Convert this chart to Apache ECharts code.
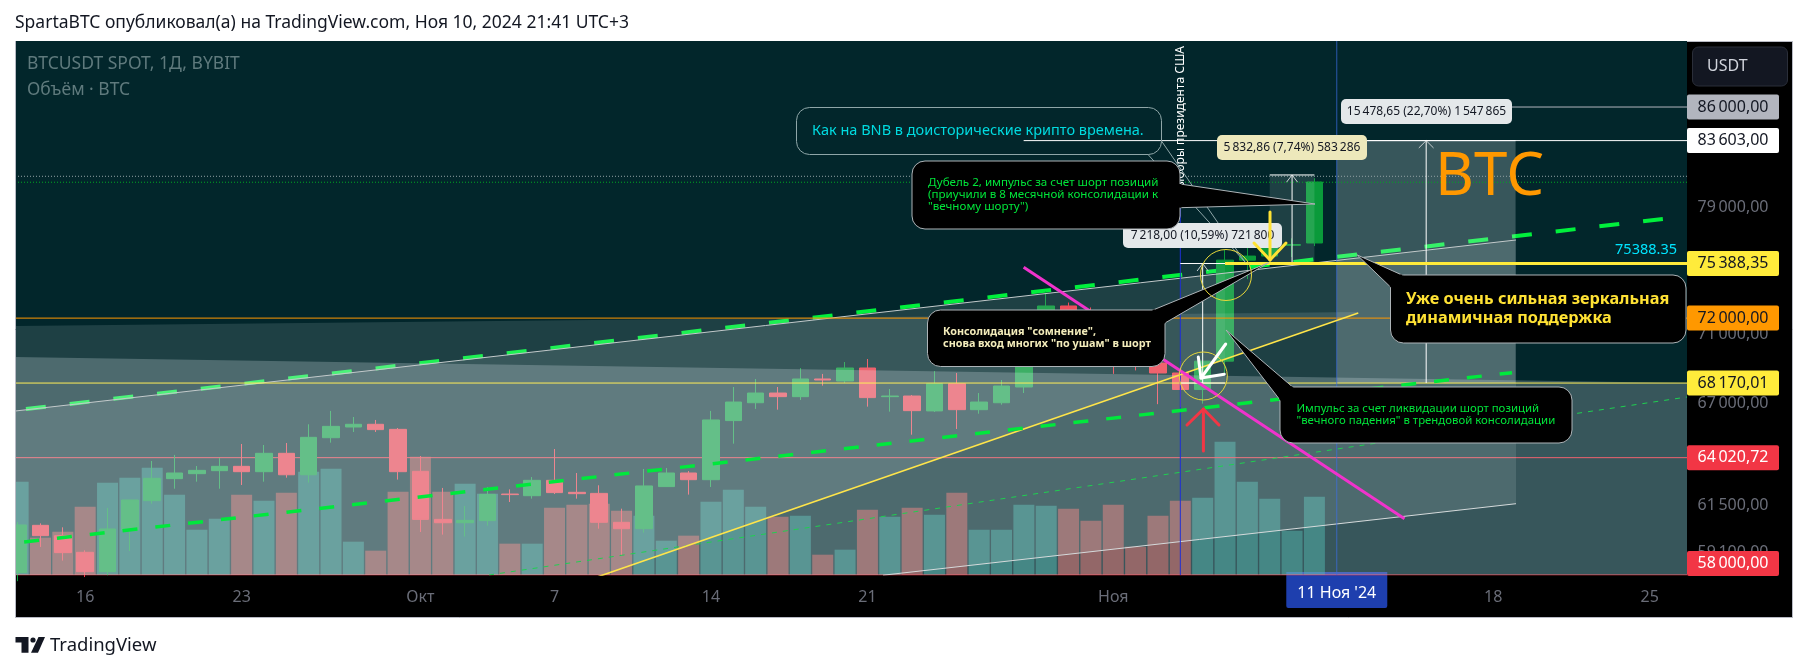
<!DOCTYPE html>
<html>
<head>
<meta charset="utf-8">
<title>BTCUSDT</title>
<script src="https://cdn.jsdelivr.net/npm/echarts@6/dist/echarts.min.js"></script>
<style>
  html, body { margin: 0; padding: 0; background: #fff; }
  #chart { width: 1808px; height: 672px; }
</style>
</head>
<body>
<div id="chart"></div>
<script>
// x axis is in days counted from Aug 31 2024 (16 = Sep 16, 31 = Oct 1, 62 = Nov 1)
var days = [13,14,15,16,17,18,19,20,21,22,23,24,25,26,27,28,29,30,
  31,32,33,34,35,36,37,38,39,40,41,42,43,44,45,46,47,48,49,50,51,52,53,54,55,56,57,58,59,60,61,
  62,63,64,65,66,67,68,69,70,71];
var opens = [58115,60476,59952,59118,58162,60240,61745,62900,63165,63325,63555,63270,64255,63105,65105,65695,65845,65565,
  63290,60780,60610,60715,62090,62005,62810,62180,62125,60630,60305,62480,63200,62845,66050,67050,67600,67395,68405,68290,69040,67395,67430,66590,68135,66660,67050,67945,69900,72740,72300,
  70250,69450,69330,68750,67800,69440,75600,75860,76550,76700];
var closes = [60493,59952,59102,58162,60290,61780,62917,63200,63340,63555,63270,64255,63105,65125,65730,65845,65550,63270,
  60780,60610,60730,62075,62060,62810,62165,62110,60630,60305,62515,63200,62845,66085,67090,67600,67395,68405,68345,69040,67340,67430,66605,68135,66660,67090,68000,69900,72740,72300,70250,
  69450,69300,68750,67800,69440,75600,75860,76550,76600,80740];
var lows = [57700,59385,58706,57900,57985,59185,61590,62370,62740,62370,62565,62740,62950,62690,64835,65419,65419,62850,
  60138,60005,59905,60460,61675,61850,62090,61850,60305,58955,60105,62460,62060,62460,64780,66700,66660,67205,68020,68175,66830,66550,65270,66530,65585,66435,66940,67600,69700,71500,69600,
  68700,68900,66970,66800,67000,68700,74400,75600,75800,76500];
var highs = [60645,60578,60375,59218,61366,61780,63842,64170,63573,64005,64763,64708,64817,65845,66590,66250,66085,65640,
  64110,62410,61470,62460,62335,62985,64490,63200,62550,61330,63415,63465,63305,66590,67945,68405,67945,69040,68695,69390,69565,67830,67490,68865,68750,67600,68345,70200,73620,72950,72650,
  71600,70600,69500,69450,70500,76250,76800,77200,77000,81000];
// thousands of BTC
var volumes = [28.0,11.2,13.0,20.5,27.7,29.2,32.2,24.1,13.6,16.9,24.1,22.3,24.7,31.0,31.9,10.0,7.3,25.0,
  35.5,25.0,27.4,24.4,9.4,9.4,20.2,21.1,21.4,19.3,17.8,10.3,11.8,22.0,25.6,20.5,17.5,17.8,6.1,7.6,19.6,17.5,20.2,18.1,24.7,13.6,13.6,21.1,20.8,19.9,16.3,
  21.1,8.5,17.8,22.3,23.2,40.0,28.0,22.9,13.3,23.5];

var xTickDays = [16,23,31,37,44,51,62,72,79,86];
var xTickLabels = ['16','23','Окт','7','14','21','Ноя',"11 Ноя '24",'18','25'];
var crosshairDay = 72;

var yTickValues = [79000,71000,67000,61500,59100];
var yTickLabels = ['79\u2009000,00','71\u2009000,00','67\u2009000,00','61\u2009500,00','59\u2009100,00'];
var levelValues = [86000,83603,75388.35,72000,68170.01,64020.72,58000];
var levelLabels = ['86\u2009000,00','83\u2009603,00','75\u2009388,35','72\u2009000,00','68\u2009170,01','64\u2009020,72','58\u2009000,00'];
var levelKeys = ['gray','white','yellow','orange','yellow','red','redLow'];

// drawings, [day, price]
var dayMin = 12.86, dayMax = 87.67;
var priceMin = 58000, priceMax = 90915;
var upperTrend = [[12.86,66583],[80.02,76895]];
var lowerTrend = [[51.7,57990],[80.02,61587]];
var upperDash = [[13.35,66698],[86.59,78266]];
var midDash = [[13.27,59634],[79.84,68768]];
var thinDash = [[34.07,58000],[87.67,67374]];
var yellowTrend = [[38.9,57900],[72.96,72314]];
var magentaLine = [[57.99,75145],[75.03,60815]];
var ray86000 = [[76,86000],[87.67,86000]];
var ray83603 = [[57.99,83603],[87.67,83603]];
var ray75388 = [[67,75388.35],[87.67,75388.35]];
var line72000 = [[12.86,72000],[87.67,72000]];
var line68170 = [[12.86,68170.01],[87.67,68170.01]];
var line64020 = [[12.86,64020.72],[87.67,64020.72]];
var line58000 = [[12.86,58000],[87.67,58000]];
var dotWhite = [[12.86,81130],[87.67,81130]];
var dotGreen = [[12.86,80725],[87.67,80725]];
var vlineElection = [[65,80000],[65,58000]];
var vlineCursor = [[72,90915],[72,58000]];

var polyWedge = [[12.86,71526],[73.0,72373],[38.9,57900],[12.86,57900]];
var polyBand = [[12.86,69680],[87.67,68172],[87.67,57900],[12.86,57900]];
var polyChannel = [[12.86,66583],[80.02,76895],[80.02,61587],[51.7,57990],[12.86,57990]];
var polyRangeBig = [[72,83603],[80,83603],[80,68170],[72,68170]];
var polyRangeTop = [[69,81221],[71,81221],[71,75388],[69,75388]];
var polyRangeMid = [[65,75388],[67,75388],[67,68170],[65,68170]];

var rangeBig = [[76,83603],[76,68170]];
var rangeBigHead = [[75.67,83087],[76,83603],[76.33,83087]];
var capBigTop = [[72,83603],[80,83603]];
var rangeTop = [[70,81221],[70,75388]];
var rangeTopHead = [[69.75,80725],[70,81221],[70.25,80725]];
var capTopHi = [[69,81221],[71,81221]];
var capTopLo = [[69,75388],[71,75388]];
var rangeMid = [[66,75388],[66,68170]];
var rangeMidHead = [[65.75,74913],[66,75388],[66.25,74913]];
var capMidHi = [[65,75388],[67,75388]];
var capMidLo = [[65,68170],[67,68170]];

var FONT = '"Noto Sans", sans-serif';
var UP = '#0a9a3a', DOWN = '#f23645';
var chart = echarts.init(document.getElementById('chart'));

function lineS(data, color, width, dash, z) {
  return {
    type: 'line', data: data, showSymbol: false, symbol: 'none', silent: true, clip: true,
    z: z || 4, animation: false,
    lineStyle: { color: color, width: width, type: dash || 'solid', cap: 'butt' }
  };
}
function polyS(points, fill) {
  return {
    type: 'custom', data: [[points[0][0], points[0][1]]], silent: true, clip: true, z: 3,
    encode: { x: 0, y: 1 },
    renderItem: function (params, api) {
      return {
        type: 'polygon',
        shape: { points: points.map(function (p) { return api.coord(p); }) },
        style: { fill: fill }
      };
    }
  };
}

// --- drawn over everything: callouts and hand arrows, placed in page pixels ---
function callout(x, y, w, h, tip, baseA, baseB, lines) {
  var els = [
    { type: 'rect', shape: { x: x, y: y, width: w, height: h, r: 13 }, style: { fill: '#000', stroke: '#aeb4b8', lineWidth: 1 } },
    { type: 'polygon', shape: { points: [baseA, tip, baseB] }, style: { fill: '#000', stroke: '#aeb4b8', lineWidth: 1 } },
    { type: 'line', shape: { x1: baseA[0], y1: baseA[1], x2: baseB[0], y2: baseB[1] }, style: { stroke: '#000', lineWidth: 3 } }
  ];
  lines.forEach(function (l) {
    els.push({ type: 'text', x: l.x, y: l.y, style: { text: l.text, fill: l.color, font: l.font, verticalAlign: 'middle' } });
  });
  return { type: 'group', children: els };
}
function poly(points, color, width) {
  return { type: 'polyline', shape: { points: points }, style: { stroke: color, lineWidth: width, fill: null, lineCap: 'round', lineJoin: 'round' } };
}
function tag(x, y, w, h, fill, text) {
  return { type: 'group', children: [
    { type: 'rect', shape: { x: x, y: y, width: w, height: h, r: 5 }, style: { fill: fill } },
    { type: 'text', x: x + w / 2, y: y + h / 2, style: { text: text, fill: '#131722', font: '12px ' + FONT, align: 'center', verticalAlign: 'middle' } }
  ] };
}
function text(x, y, str, color, font, extra) {
  var style = { text: str, fill: color, font: font, verticalAlign: 'middle' };
  if (extra && extra.align) style.align = extra.align;
  return { type: 'text', x: x, y: y, rotation: extra && extra.rotation || 0, silent: true, style: style };
}

var graphics = [
  { type: 'rect', z: -10, shape: { x: 15.5, y: 41.5, width: 1777, height: 576 }, style: { fill: '#000', stroke: '#b8bac4', lineWidth: 1 } },
  text(15, 23, 'SpartaBTC опубликовал(а) на TradingView.com, Ноя 10, 2024 21:41 UTC+3', '#131722', '17.5px ' + FONT),
  text(27, 64, 'BTCUSDT SPOT, 1Д, BYBIT', '#5f7a7d', '17.5px ' + FONT),
  text(27, 90, 'Объём · BTC', '#5f7a7d', '17.5px ' + FONT),
  text(1435, 178, 'BTC', '#ff9800', '60px ' + FONT),
  text(1677, 250, '75388.35', '#00e5ff', '14.5px ' + FONT, { align: 'right' }),
  text(1181, 46, 'Выборы президента США', '#ffffff', '12px ' + FONT, { align: 'right', rotation: Math.PI / 2 }),
  // USDT button
  { type: 'rect', shape: { x: 1692.5, y: 47, width: 95, height: 39, r: 6 }, style: { fill: '#131722', stroke: '#2a2e39', lineWidth: 1 } },
  text(1707, 66, 'USDT', '#d1d4dc', '16px ' + FONT),
  // BNB note, only an outline
  { type: 'rect', shape: { x: 796.5, y: 107.5, width: 365, height: 47, r: 13 }, style: { fill: null, stroke: '#8fa6a8', lineWidth: 1 } },
  poly([[1161.5, 141], [1245, 262]], '#8fa6a8', 1),
  poly([[1148, 154.5], [1245, 262]], '#8fa6a8', 1),
  text(812, 131, 'Как на BNB в доисторические крипто времена.', '#00dbe0', '14.5px ' + FONT),
  // measure tags
  tag(1341, 99, 171, 25, '#e4e8ea', '15\u2009478,65 (22,70%) 1\u2009547\u2009865'),
  tag(1217, 135, 150, 25, '#ede8bb', '5\u2009832,86 (7,74%) 583\u2009286'),
  tag(1123, 223, 159, 25, '#e4e8ea', '7\u2009218,00 (10,59%) 721\u2009800'),
  // callouts
  callout(1280, 387, 292, 56, [1226, 330], [1292.6, 387], [1280, 400], [
    { x: 1296.5, y: 409, text: 'Импульс за счет ликвидации шорт позиций', color: '#00e63a', font: '11.4px ' + FONT },
    { x: 1296.5, y: 421, text: '"вечного падения" в трендовой консолидации', color: '#00e63a', font: '11.4px ' + FONT }
  ]),
  callout(927.5, 310, 237.5, 56.5, [1268.7, 262.7], [1153, 310], [1165, 323], [
    { x: 943, y: 332, text: 'Консолидация "сомнение",', color: '#f3ecbb', font: 'bold 10.8px ' + FONT },
    { x: 943, y: 344, text: 'снова вход многих "по ушам" в шорт', color: '#f3ecbb', font: 'bold 10.8px ' + FONT }
  ]),
  callout(912, 161, 268, 68, [1315, 204], [1180, 184], [1180, 207.7], [
    { x: 928, y: 183, text: 'Дубель 2, импульс за счет шорт позиций', color: '#00e63a', font: '11.6px ' + FONT },
    { x: 928, y: 195, text: '(приучили в 8 месячной консолидации к', color: '#00e63a', font: '11.6px ' + FONT },
    { x: 928, y: 207, text: '"вечному шорту")', color: '#00e63a', font: '11.6px ' + FONT }
  ]),
  callout(1390.5, 275, 295.5, 68, [1357.3, 255], [1402, 275], [1390.5, 287], [
    { x: 1406, y: 299, text: 'Уже очень сильная зеркальная', color: '#ffe234', font: 'bold 16.3px ' + FONT },
    { x: 1406, y: 318, text: 'динамичная поддержка', color: '#ffe234', font: 'bold 16.3px ' + FONT }
  ]),
  // arrows and circles
  { type: 'circle', shape: { cx: 1226, cy: 275, r: 25.5 }, style: { fill: null, stroke: '#e8d83a', lineWidth: 1 } },
  { type: 'circle', shape: { cx: 1203.3, cy: 376, r: 24 }, style: { fill: null, stroke: '#e8d83a', lineWidth: 1 } },
  poly([[1270, 212], [1270, 260]], '#ffe234', 3),
  poly([[1254, 243], [1270, 260], [1286, 243]], '#ffe234', 3),
  poly([[1203.4, 451], [1203.4, 409]], '#f23645', 3),
  poly([[1187, 425], [1203.4, 409], [1219, 425]], '#f23645', 3),
  poly([[1225.7, 344], [1201, 378]], '#ffffff', 3),
  poly([[1198.3, 357], [1201, 378], [1224.3, 374.3]], '#ffffff', 3),
  // bars that stick out past the left edge of the pane
  { type: 'rect', shape: { x: 0, y: 41, width: 15, height: 578 }, style: { fill: '#ffffff' } },
  { type: 'line', shape: { x1: 15.5, y1: 41, x2: 15.5, y2: 618 }, style: { stroke: '#b8bac4', lineWidth: 1 } },
  // TradingView mark
  { type: 'polygon', shape: { points: [[15.5, 637], [28.5, 637], [28.5, 652.7], [21.5, 652.7], [21.5, 642.5], [15.5, 642.5]] }, style: { fill: '#131722' } },
  { type: 'circle', shape: { cx: 33, cy: 640, r: 2.6 }, style: { fill: '#131722' } },
  { type: 'polygon', shape: { points: [[38.5, 637], [45, 637], [38, 652.7], [31, 652.7]] }, style: { fill: '#131722' } },
  text(50, 646, 'TradingView', '#131722', '18.5px ' + FONT)
];
// graphic z is per element, groups do not pass it on
var zNext = 20;
function stackUp(list) {
  list.forEach(function (el) {
    if (el.z === undefined) el.z = zNext++;
    if (el.children) stackUp(el.children);
  });
}
stackUp(graphics);

var candleData = days.map(function (d, i) { return [d, opens[i], closes[i], lows[i], highs[i]]; });
var volumeData = days.map(function (d, i) {
  return {
    value: [d, volumes[i]],
    itemStyle: { color: closes[i] >= opens[i] ? 'rgba(38,166,154,0.5)' : 'rgba(239,83,80,0.5)' }
  };
});

var levelRich = {
  t: { color: '#6a6d78', width: 92, height: 25, lineHeight: 25, align: 'center', fontFamily: FONT, fontSize: 16 }
};
var levelColors = {
  gray: ['#b2b5be', '#131722'], white: ['#ffffff', '#131722'], yellow: ['#ffeb3b', '#131722'],
  orange: ['#ff9800', '#131722'], red: ['#f23645', '#ffffff'], redLow: ['#f23645', '#ffffff']
};
Object.keys(levelColors).forEach(function (k) {
  levelRich[k] = {
    backgroundColor: levelColors[k][0], color: levelColors[k][1], width: 92, height: 25, lineHeight: 25,
    align: 'center', borderRadius: 2, fontFamily: FONT, fontSize: 16
  };
});
levelRich.pad = { height: 23, lineHeight: 23, width: 92 };

chart.setOption({
  animation: false,
  backgroundColor: '#ffffff',
  grid: { left: 15, right: 121, top: 41, bottom: 97, show: true, backgroundColor: '#02262b', borderWidth: 0, containLabel: false },
  graphic: graphics,
  xAxis: {
    type: 'value', min: dayMin, max: dayMax,
    splitLine: { show: false }, axisLine: { show: false }, axisTick: { show: false },
    axisLabel: {
      customValues: xTickDays, margin: 0, verticalAlign: 'top', hideOverlap: false,
      formatter: function (v) {
        var i = xTickDays.indexOf(v);
        return v === crosshairDay ? '{hl|' + xTickLabels[i] + '}' : '{n|' + xTickLabels[i] + '}';
      },
      rich: {
        n: { color: '#6a6d78', fontFamily: FONT, fontSize: 16, height: 44, lineHeight: 44 },
        hl: { color: '#ffffff', backgroundColor: '#1e3fae', fontFamily: FONT, fontSize: 16, width: 101, height: 30, lineHeight: 30, align: 'center', padding: [6, 0, 0, 0], borderRadius: [0, 0, 2, 2] }
      }
    }
  },
  yAxis: [{
    type: 'log', position: 'right', min: priceMin, max: priceMax,
    splitLine: { show: false }, axisLine: { show: false }, axisTick: { show: false },
    axisLabel: {
      customValues: yTickValues.concat(levelValues), margin: 0, align: 'left', verticalAlign: 'middle', hideOverlap: false,
      formatter: function (v) {
        var i = levelValues.indexOf(v);
        if (i >= 0) {
          var s = '{' + levelKeys[i] + '|' + levelLabels[i] + '}';
          return levelKeys[i] === 'redLow' ? s + '\n{pad|}' : s;
        }
        return '{t|' + yTickLabels[yTickValues.indexOf(v)] + '}';
      },
      rich: levelRich
    }
  }, {
    type: 'value', show: false, min: 0, max: 160.2, splitLine: { show: false }
  }],
  series: [
    { type: 'bar', yAxisIndex: 1, data: volumeData, barWidth: 21, z: 1, silent: true, encode: { x: 0, y: 1 } },
    {
      type: 'candlestick', data: candleData, encode: { x: 0, y: [1, 2, 3, 4] }, barWidth: 17, z: 2, silent: true, clip: true,
      itemStyle: { color: UP, color0: DOWN, borderColor: UP, borderColor0: DOWN, borderWidth: 1 }
    },
    lineS(line64020, DOWN, 1, 'solid', 2),
    lineS(line58000, DOWN, 1, 'solid', 2),
    lineS(upperDash, '#00f03c', 4, [20, 24], 2),
    polyS(polyWedge, 'rgba(235,245,250,0.125)'),
    polyS(polyBand, 'rgba(235,245,250,0.23)'),
    polyS(polyChannel, 'rgba(235,245,250,0.125)'),
    polyS(polyRangeBig, 'rgba(235,245,250,0.23)'),
    polyS(polyRangeTop, 'rgba(235,245,250,0.125)'),
    polyS(polyRangeMid, 'rgba(235,245,250,0.08)'),
    lineS(upperTrend, '#c3cacb', 1),
    lineS(lowerTrend, '#d5dadb', 1),
    lineS(dotWhite, '#93a3a5', 1, [1, 2]),
    lineS(dotGreen, '#00aa22', 1, [1, 2]),
    lineS(line72000, '#ff9800', 1),
    lineS(line68170, '#ffee58', 1),
    lineS(ray86000, '#b2b5be', 1),
    lineS(ray83603, '#ffffff', 1),
    lineS(vlineElection, '#1f2fd6', 1),
    lineS(vlineCursor, 'rgba(60,110,230,0.7)', 1),
    lineS(thinDash, '#1fd050', 1, [5, 6]),
    lineS(yellowTrend, '#ffe54a', 1.6),
    lineS(midDash, '#00e83c', 3.5, [15, 18]),
    lineS(rangeBig, '#ffffff', 1),
    lineS(rangeBigHead, '#c9d0d2', 1),
    lineS(capBigTop, '#ffffff', 1),
    lineS(rangeTop, '#ffffff', 1),
    lineS(rangeTopHead, '#c9d0d2', 1),
    lineS(capTopHi, '#ffffff', 1),
    lineS(capTopLo, '#ffffff', 1),
    lineS(rangeMid, '#ffffff', 1),
    lineS(rangeMidHead, '#c9d0d2', 1),
    lineS(capMidHi, '#ffffff', 1),
    lineS(capMidLo, '#ffffff', 1),
    lineS(ray75388, '#ffeb3b', 3),
    lineS(magentaLine, '#f033cc', 3)
  ]
});
</script>
</body>
</html>
